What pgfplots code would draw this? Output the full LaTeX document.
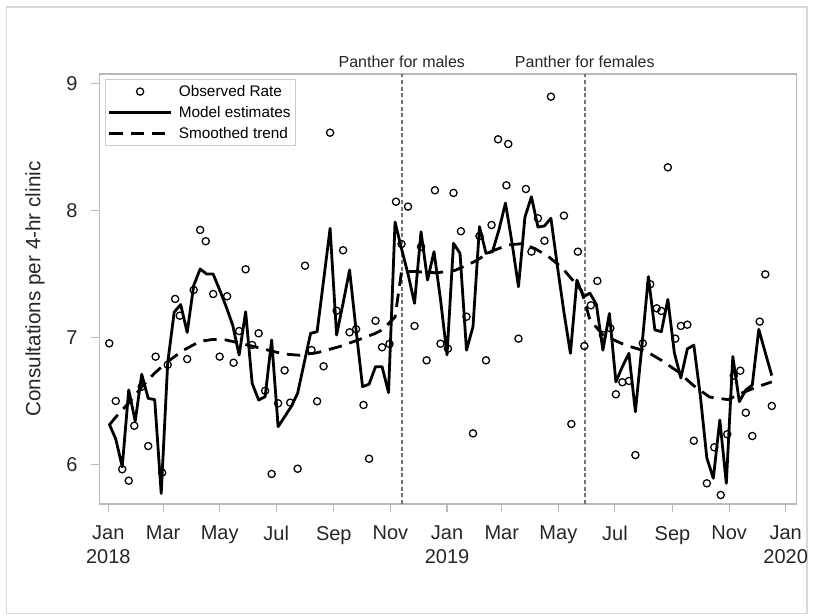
\documentclass[border=0pt]{standalone}
\usepackage{pgfplots}
\usepackage{pgfplotstable}
\pgfplotsset{compat=1.18}
\usepackage{fontspec}
\setmainfont{Liberation Sans}
\pgfplotsset{legend image code/.code={\draw[mark repeat=2,mark phase=2,#1] plot coordinates {(0pt,0pt) (23pt,0pt) (46pt,0pt)};}}

\pgfplotstableread{
day val
1 6.954
8 6.499
15 5.961
22 5.871
28 6.304
36 6.612
43 6.144
51 6.849
58 5.934
64 6.785
72 7.304
77 7.172
85 6.830
92 7.375
99 7.848
105 7.759
113 7.343
120 6.849
128 7.325
135 6.801
141 7.051
148 7.538
155 6.941
162 7.033
169 6.580
176 5.924
183 6.481
190 6.741
196 6.486
204 5.965
212 7.566
219 6.901
225 6.497
232 6.773
239 8.615
246 7.211
253 7.688
260 7.041
267 7.065
275 6.468
281 6.044
288 7.132
295 6.923
303 6.949
310 8.071
316 7.737
323 8.032
330 7.091
337 7.716
343 6.820
352 8.161
358 6.951
366 6.912
372 8.140
380 7.838
386 7.164
393 6.244
400 7.800
407 6.820
413 7.887
420 8.563
429 8.200
431 8.526
442 6.991
450 8.171
456 7.677
463 7.940
470 7.763
477 8.899
491 7.961
499 6.318
506 7.677
513 6.933
520 7.254
527 7.446
533 7.020
541 7.073
547 6.552
554 6.647
561 6.657
568 6.073
576 6.954
584 7.420
591 7.230
596 7.209
603 8.342
611 6.991
617 7.091
624 7.101
631 6.186
645 5.850
653 6.134
660 5.758
667 6.237
674 6.699
681 6.738
687 6.407
694 6.223
702 7.125
708 7.498
715 6.460
}\observed

\pgfplotstableread{
day val
1 6.318
8 6.20
15 5.98
22 6.586
29 6.34
36 6.71
43 6.52
50 6.51
57 5.77
64 6.80
71 7.20
78 7.26
85 7.04
92 7.41
99 7.54
106 7.50
113 7.50
120 7.375
127 7.243
134 7.099
141 6.862
148 7.203
155 6.639
162 6.507
169 6.533
176 6.98
183 6.297
190 6.375
197 6.454
204 6.56
211 6.797
218 7.033
225 7.046
232 7.45
239 7.861
246 7.02
253 7.27
260 7.532
267 7.059
274 6.612
281 6.632
288 6.77
295 6.77
302 6.565
309 7.91
316 7.70
323 7.50
330 7.27
337 7.834
344 7.453
351 7.677
358 7.30
365 6.862
372 7.743
379 7.664
386 6.90
393 7.085
400 7.874
407 7.664
414 7.677
421 7.85
428 8.06
435 7.75
442 7.40
449 7.95
456 8.11
463 7.87
470 7.88
477 7.94
484 7.56
491 7.20
498 6.875
505 7.453
512 7.32
519 7.35
526 7.26
533 6.90
540 7.19
547 6.65
554 6.77
561 6.875
568 6.415
575 6.93
582 7.48
589 7.06
596 7.046
603 7.30
610 6.88
617 6.68
624 6.91
631 6.94
638 6.54
645 6.05
652 5.89
659 6.35
666 5.85
673 6.85
680 6.494
687 6.586
694 6.625
701 7.065
708 6.88
715 6.70
}\model

\pgfplotstableread{
day val
1 6.31
9 6.38
24 6.50
36 6.61
50 6.72
64 6.81
81 6.90
99 6.97
113 6.985
127 6.98
145 6.95
167 6.91
189 6.87
206 6.86
225 6.88
250 6.93
269 6.98
287 7.03
295 7.06
309 7.16
316 7.52
330 7.52
354 7.51
374 7.53
395 7.60
413 7.68
431 7.73
446 7.74
460 7.70
474 7.64
489 7.55
503 7.43
510 7.37
519 7.14
533 7.02
557 6.94
580 6.89
596 6.82
614 6.73
630 6.625
648 6.53
668 6.51
682 6.56
699 6.61
715 6.65
}\trend

\begin{document}
\begin{tikzpicture}[x=1pt,y=1pt]
\path[use as bounding box] (-74.625,-84) rectangle (535.125,378);
\draw[gray!30, line width=0.8pt] (-69.4,-82) rectangle (530.6,372.75);
\begin{axis}[
  at={(0,0)}, anchor=south west,
  scale only axis, width=523pt, height=322.5pt,
  xmin=-9.5, xmax=742, ymin=5.687, ymax=9.078,
  clip=false,
  axis line style={gray!55, line width=0.8pt},
  tick style={gray!55, line width=0.8pt},
  tick align=outside, major tick length=6pt,
  xtick pos=bottom, ytick pos=left,
  xtick={0,59,120,181,243,304,365,424,485,546,608,669,730},
  xticklabels={{Jan\\2018},Mar,May,Jul,Sep,Nov,{Jan\\2019},Mar,May,Jul,Sep,Nov,{Jan\\2020}},
  xticklabel style={align=center, font=\fontsize{15}{18}\selectfont, text=black!85, yshift=-7pt},
  ytick={6,7,8,9},
  yticklabel style={font=\fontsize{15}{18}\selectfont, text=black!85, xshift=-7pt},
  /pgf/number format/assume math mode=true,
  ylabel={Consultations per 4-hr clinic},
  every axis y label/.style={at={(rel axis cs:-0.0925,0.5)}, rotate=90, anchor=center, font=\fontsize{15.5}{16}\selectfont, text=black!85},
  legend style={at={(rel axis cs:0.0079,0.9877)}, anchor=north west, draw=gray!40, line width=0.6pt,
     font=\fontsize{11.5}{12}\selectfont, inner sep=2pt, row sep=2pt,
     /tikz/every odd column/.append style={column sep=3pt}},
  legend cell align=left,
]
\addplot[forget plot, black!55, line width=1.4pt, dash pattern=on 3pt off 2pt] coordinates {(316.3,5.687) (316.3,9.078)};
\addplot[forget plot, black!55, line width=1.4pt, dash pattern=on 3pt off 2pt] coordinates {(513.5,5.687) (513.5,9.078)};

\addplot[only marks, mark=o, mark size=2.7pt, mark options={line width=0.95pt, black}, black]
  table[x=day,y=val] {\observed};
\addlegendentry{Observed Rate}
\addplot[black, line width=2.1pt, line join=round, no marks]
  table[x=day,y=val] {\model};
\addlegendentry{Model estimates}
\addplot[black, line width=2.1pt, dash pattern=on 10pt off 6pt, no marks]
  table[x=day,y=val] {\trend};
\addlegendentry{Smoothed trend}

\node[anchor=base, font=\fontsize{12}{14}\selectfont, text=black!85] at (axis cs:316.3,9.078) [yshift=5pt] {Panther for males};
\node[anchor=base, font=\fontsize{12}{14}\selectfont, text=black!85] at (axis cs:513.5,9.078) [yshift=5pt] {Panther for females};
\end{axis}
\end{tikzpicture}
\end{document}
